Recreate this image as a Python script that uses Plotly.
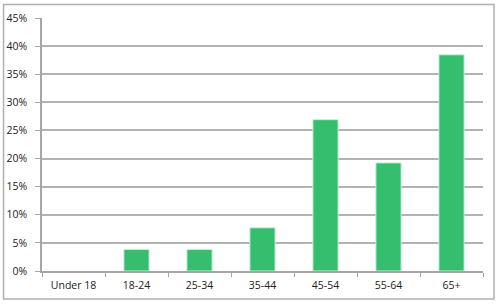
import plotly.graph_objects as go

categories = ["Under 18", "18-24", "25-34", "35-44", "45-54", "55-64", "65+"]
values = [0.0, 0.0385, 0.0385, 0.0769, 0.2692, 0.1923, 0.3846]
tick_vals = [0, 0.05, 0.10, 0.15, 0.20, 0.25, 0.30, 0.35, 0.40, 0.45]
tick_text = ["0%", "5%", "10%", "15%", "20%", "25%", "30%", "35%", "40%", "45%"]

fig = go.Figure(go.Bar(
    x=categories, y=values,
    marker=dict(color="#34be6e",
                line=dict(color="#cdeedb", width=[0 if v == 0 else 1 for v in values])),
))

W, H = 500, 306
L, R, T, B = 41.5, 17, 17.5, 35

fig.update_layout(
    width=W, height=H,
    margin=dict(l=L, r=R, t=T, b=B, pad=0, autoexpand=False),
    paper_bgcolor="white", plot_bgcolor="white",
    bargap=0.6, showlegend=False,
    font=dict(family="Open Sans, Liberation Sans, sans-serif", size=10.5, color="#222222"),
    xaxis=dict(
        type="category", showline=True, linecolor="#a6a6a6", linewidth=1.5,
        ticks="outside", tickson="boundaries", ticklen=4, tickcolor="#a6a6a6", tickwidth=1,
        showgrid=False, tickfont=dict(size=10.5), ticklabelstandoff=4, automargin=False,
    ),
    yaxis=dict(
        range=[0, 0.45], tickvals=tick_vals, ticktext=tick_text,
        showline=True, linecolor="#a6a6a6", linewidth=1.5,
        ticks="outside", ticklen=5, tickcolor="#a6a6a6",
        showgrid=True, gridcolor="#b3b3b3", gridwidth=1.5,
        zeroline=False, tickfont=dict(size=10.5), ticklabelstandoff=6, automargin=False,
    ),
    shapes=[dict(
        type="rect", xref="paper", yref="paper",
        x0=(3 - L) / (W - L - R), x1=(494 - L) / (W - L - R),
        y0=(H - B - 299) / (H - T - B), y1=(H - B - 4) / (H - T - B),
        line=dict(color="#b0b0b0", width=1.5), layer="below",
    )],
)

fig.write_html("out.html")
